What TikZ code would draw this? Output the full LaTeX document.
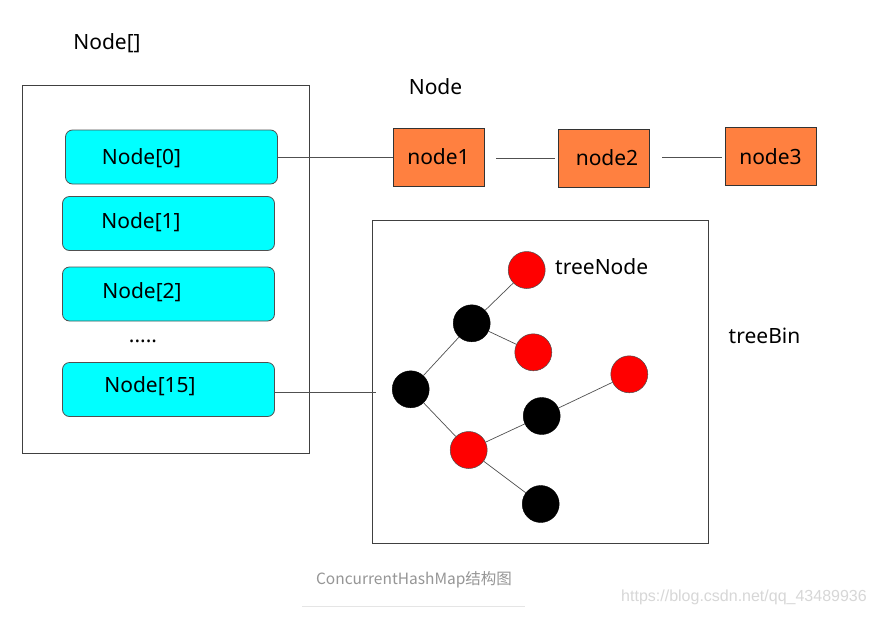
\documentclass[tikz,border=0pt]{standalone}
\usepackage{fontspec}
\setmainfont{Noto Sans}
\newfontfamily\cjkfont{Noto Sans CJK SC}
\newfontfamily\wmfont{Liberation Sans}
\definecolor{cyanbox}{RGB}{0,255,255}
\definecolor{orangebox}{RGB}{255,128,64}
\definecolor{edgegray}{RGB}{80,80,80}
\definecolor{capgray}{RGB}{150,150,150}
\definecolor{wmgray}{RGB}{215,215,215}
\tikzset{
  lbl/.style={font=\fontsize{21}{24}\selectfont, inner sep=0pt},
  arr/.style={draw=edgegray, rounded corners=7pt, fill=cyanbox, line width=0.8pt, minimum width=212pt, minimum height=54pt, inner sep=0pt},
  obox/.style={draw=black!80, fill=orangebox, line width=0.8pt, minimum width=91pt, minimum height=58pt, inner sep=0pt, font=\fontsize{21}{24}\selectfont},
  frame/.style={draw=black!75, line width=0.9pt},
  link/.style={draw=edgegray, line width=0.8pt},
  rb/.style={circle, draw=black!70, fill=red, minimum size=37pt, inner sep=0pt, line width=0.5pt},
  bb/.style={circle, draw=black, fill=black, minimum size=37pt, inner sep=0pt},
  tl/.style={draw=edgegray, line width=0.7pt}
}
\begin{document}
\begin{tikzpicture}[x=1pt,y=-1pt]
\useasboundingbox[fill=white] (0,0) rectangle (874,616);
% left array frame
\node[frame, minimum width=287pt, minimum height=368pt, inner sep=0pt] (arrframe) at (165.5,269) {};
\node[lbl] (arrtitle) at (107,43) {Node[]};
% cyan slots
\node[arr] (s0) at (171.5,157) {};
\node[arr] (s1) at (168.5,223.5) {};
\node[arr] (s2) at (168.5,294) {};
\node[arr] (s15) at (168.5,389.5) {};
\node[lbl] (t0) at (141.5,158) {Node[0]};
\node[lbl] (t1) at (141,222) {Node[1]};
\node[lbl] (t2) at (142,292) {Node[2]};
\node[lbl] (dots) at (143,341) {.....};
\node[lbl] (t15) at (150,386) {Node[15]};
% linked list
\node[lbl] (listtitle) at (435.5,87) {Node};
\node[obox] (n1) at (438.5,157) {node1};
\node[obox] (n2) at (604,158) {\hspace{6pt}node2};
\node[obox] (n3) at (770.5,156.5) {node3};
\coordinate (n1r) at (496,158);
\coordinate (n2l) at (555,158);
\coordinate (n2r) at (662,157);
\coordinate (n3l) at (722,157);
\draw[link] (s0.east) -- (n1.west);
\draw[link] (n1r) -- (n2l);
\draw[link] (n2r) -- (n3l);
% tree bin
\node[frame, minimum width=336pt, minimum height=323pt, inner sep=0pt] (binframe) at (540,381.5) {};
\node[lbl] (bintitle) at (764.5,336) {treeBin};
\coordinate (binin) at (376,392);
\draw[link] (s15.east |- binin) -- (binin);
\node[rb] (r1) at (526.7,270) {};
\node[bb] (b1) at (471.7,323.3) {};
\node[rb] (r2) at (533.3,352.3) {};
\node[bb] (root) at (410.7,389.3) {};
\node[rb] (r3) at (629.3,374.3) {};
\node[bb] (b2) at (541.7,416) {};
\node[rb] (r4) at (468.7,450) {};
\node[bb] (b3) at (540.7,504) {};
\node[lbl, anchor=west] (tnlabel) at (555,267) {treeNode};
\draw[tl] (root) -- (b1);
\draw[tl] (b1) -- (r1);
\draw[tl] (b1) -- (r2);
\draw[tl] (root) -- (r4);
\draw[tl] (r4) -- (b2);
\draw[tl] (b2) -- (r3);
\draw[tl] (r4) -- (b3);
% caption
\node[inner sep=0pt, text=capgray, font=\fontsize{15.5}{18}\selectfont] (caption) at (414,580) {\cjkfont ConcurrentHashMap结构图};
\coordinate (ul1) at (302,606);
\coordinate (ul2) at (525,606);
\draw[draw=black!10, line width=0.8pt] (ul1) -- (ul2);
\node[inner sep=0pt, text=wmgray, font=\fontsize{16}{18}\selectfont] (wm) at (744,597) {\wmfont https://blog.csdn.net/qq\_43489936};
\end{tikzpicture}
\end{document}
